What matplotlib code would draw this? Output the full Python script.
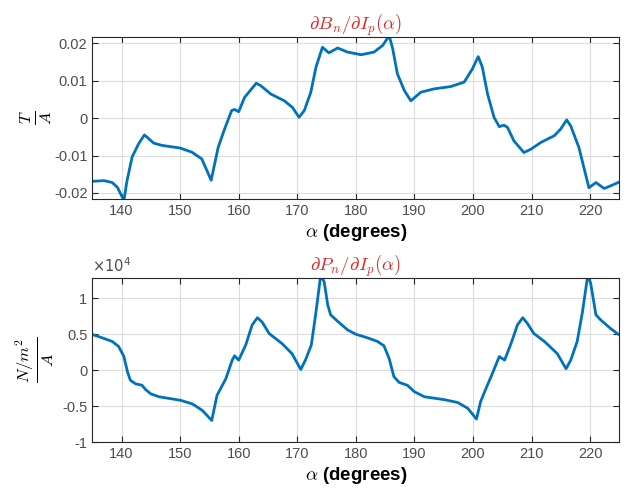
import matplotlib
matplotlib.use("Agg")
import matplotlib.pyplot as plt
from matplotlib.ticker import FuncFormatter

# derivative dBn/dIp, in T/A
alpha_b = [134.9, 137.0, 138.4, 139.3, 140.4, 140.9, 141.8, 142.9, 143.9, 145.5,
           146.9, 150.0, 152.0, 153.7, 155.3, 156.5, 157.6, 158.8, 159.3, 160.0,
           161.0, 163.0, 163.8, 165.5, 167.8, 169.2, 170.3, 171.2, 172.3, 173.2,
           174.3, 175.4, 176.9, 178.6, 180.9, 183.1, 184.6, 185.7, 186.3, 187.1,
           188.3, 189.4, 191.1, 193.4, 196.2, 198.5, 199.9, 200.9, 201.6, 202.5,
           203.6, 204.5, 205.3, 205.9, 207.0, 208.7, 209.9, 211.6, 213.9, 215.0,
           216.0, 216.7, 218.1, 219.8, 221.0, 222.4, 223.8, 224.8]
dB = [-0.0169, -0.0167, -0.0172, -0.0185, -0.0220, -0.0170, -0.0104, -0.0069, -0.0045, -0.0067,
      -0.0073, -0.0080, -0.0091, -0.0109, -0.0166, -0.0078, -0.0029, 0.0020, 0.0023, 0.0017,
      0.0055, 0.0093, 0.0086, 0.0064, 0.0046, 0.0028, 0.0002, 0.0020, 0.0068, 0.0136,
      0.0189, 0.0174, 0.0187, 0.0176, 0.0169, 0.0176, 0.0194, 0.0220, 0.0185, 0.0118,
      0.0073, 0.0046, 0.0069, 0.0078, 0.0084, 0.0096, 0.0131, 0.0164, 0.0136, 0.0064,
      0.0002, -0.0023, -0.0019, -0.0025, -0.0061, -0.0092, -0.0083, -0.0065, -0.0047, -0.0029,
      -0.0005, -0.0021, -0.0079, -0.0186, -0.0172, -0.0188, -0.0179, -0.0172]

# derivative dPn/dIp, in 1e4 (N/m^2)/A
alpha_p = [134.9, 136.7, 138.4, 139.5, 140.4, 141.0, 141.5, 142.4, 143.5, 144.1,
           145.0, 146.4, 150.1, 152.1, 153.8, 155.4, 156.3, 157.8, 158.9, 159.3,
           160.0, 161.2, 162.3, 163.2, 164.0, 165.2, 167.4, 169.1, 170.6, 171.4,
           172.4, 173.2, 174.0, 174.6, 175.2, 175.7, 176.9, 178.6, 180.0, 182.0,
           183.7, 184.8, 185.7, 186.5, 187.4, 188.8, 190.0, 191.7, 195.1, 197.4,
           199.1, 200.6, 201.3, 202.2, 203.3, 204.5, 205.4, 206.5, 207.6, 208.5,
           209.3, 210.4, 212.2, 214.4, 215.9, 216.7, 217.8, 218.7, 219.6, 220.1,
           221.0, 221.8, 223.5, 224.8]
dP = [0.50, 0.45, 0.40, 0.33, 0.19, -0.02, -0.14, -0.19, -0.21, -0.27,
      -0.33, -0.37, -0.42, -0.47, -0.56, -0.70, -0.35, -0.12, 0.14, 0.20,
      0.14, 0.35, 0.63, 0.73, 0.67, 0.51, 0.37, 0.23, 0.01, 0.14,
      0.35, 0.81, 1.32, 1.23, 0.91, 0.77, 0.68, 0.56, 0.50, 0.45,
      0.40, 0.34, 0.16, -0.09, -0.17, -0.21, -0.30, -0.37, -0.41, -0.45,
      -0.53, -0.68, -0.44, -0.26, -0.05, 0.19, 0.14, 0.37, 0.63, 0.73,
      0.65, 0.51, 0.40, 0.23, 0.02, 0.14, 0.40, 0.81, 1.32, 1.21,
      0.77, 0.70, 0.58, 0.50]

plt.rcParams['font.family'] = ['Liberation Sans', 'DejaVu Sans']
plt.rcParams['mathtext.fontset'] = 'cm'
plt.rcParams['axes.unicode_minus'] = False

blue = '#0072BD'
dark = '#262626'

fig = plt.figure(figsize=(6.32, 4.95), dpi=100)
ax1 = fig.add_axes([0.146, 0.598, 0.834, 0.327])
ax2 = fig.add_axes([0.146, 0.107, 0.834, 0.331])

for ax in (ax1, ax2):
    ax.set_xlim(135, 225)
    ax.set_xticks(range(140, 221, 10))
    ax.grid(True, color='#dcdcdc', linewidth=0.8)
    ax.set_axisbelow(True)
    ax.tick_params(direction='in', top=True, right=True, length=4,
                   labelsize=10.5, colors=dark, labelcolor='#4d4d4d')
    for s in ax.spines.values():
        s.set_color(dark)
        s.set_linewidth(0.8)
    ax.yaxis.set_major_formatter(FuncFormatter(lambda v, p: '%g' % round(v, 6)))
    ax.set_xlabel(r'$\alpha$ (degrees)', fontsize=13.5, fontweight='bold', labelpad=3)

ax1.plot(alpha_b, dB, color=blue, linewidth=2)
ax1.set_ylim(-0.0216, 0.0216)
ax1.set_yticks([-0.02, -0.01, 0, 0.01, 0.02])
ax1.set_title(r'$\partial B_n/\partial I_p(\alpha)$', color='#d92b2b', fontsize=13.5, pad=5)
ax1.set_ylabel(r'$\frac{T}{A}$', fontsize=17, rotation=90)
ax1.yaxis.set_label_coords(-0.073, 0.5)

ax2.plot(alpha_p, dP, color=blue, linewidth=2)
ax2.set_ylim(-1.0, 1.28)
ax2.set_yticks([-1, -0.5, 0, 0.5, 1])
ax2.set_title(r'$\partial P_n/\partial I_p(\alpha)$', color='#d92b2b', fontsize=13.5, pad=5)
ax2.set_ylabel(r'$\frac{N/m^2}{A}$', fontsize=17, rotation=90)
ax2.yaxis.set_label_coords(-0.068, 0.5)
ax2.text(0.0, 1.02, r'$\times10^4$', transform=ax2.transAxes, fontsize=10.5,
         color='#4d4d4d', ha='left', va='bottom', math_fontfamily='dejavusans')

fig.savefig('out.png', dpi=100, facecolor='white')
